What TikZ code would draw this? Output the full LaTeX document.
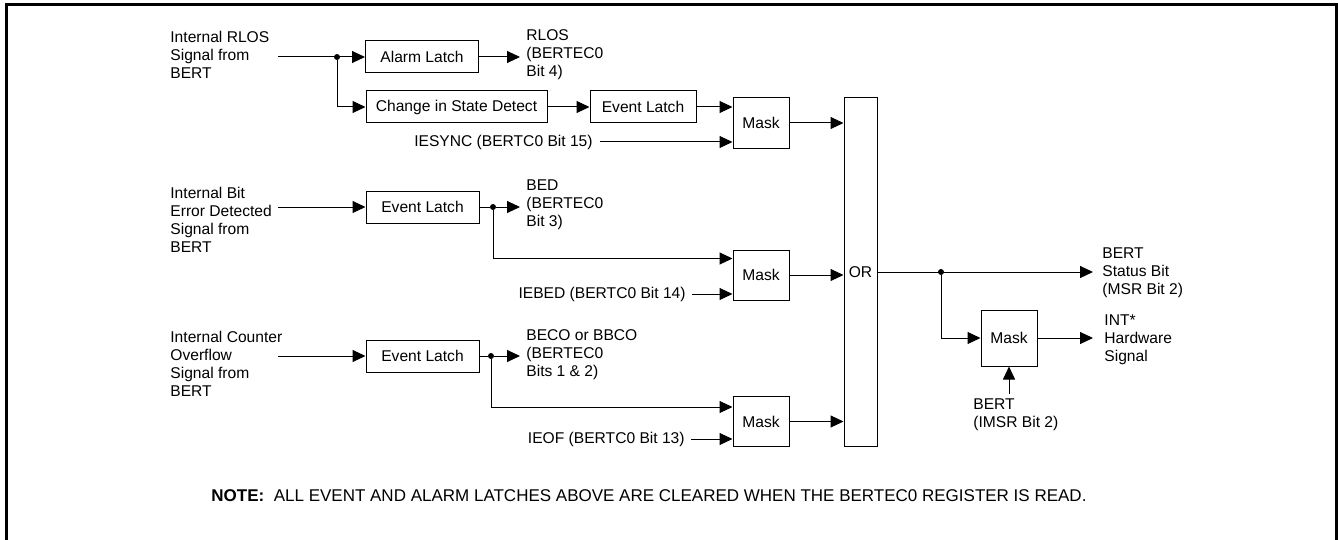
\documentclass[tikz,border=0pt]{standalone}
\usepackage{fontspec}
\setmainfont{Liberation Sans}
\usetikzlibrary{arrows.meta,positioning}
\tikzset{
  >={Triangle[length=6.5pt,width=6pt]},
  blk/.style={draw,line width=0.5pt,minimum height=16pt,minimum width=#1,inner sep=0pt,
    font=\fontsize{7.8}{9}\selectfont},
  blk/.default=56.5pt,
  mask/.style={blk=28pt,minimum height=25pt},
  sig/.style={->,line width=0.5pt},
  txt/.style={inner sep=0pt,align=left,font=\fontsize{7.8}{9}\selectfont},
  dot/.style={circle,fill,inner sep=0pt,minimum size=3pt},
}
\begin{document}
\begin{tikzpicture}[x=0.5pt,y=-0.5pt]
  \useasboundingbox (0,0) rectangle (1338,540);
  \draw[line width=1.5pt] (6,545) |- (1336,5) -- (1336,545);
  % blocks
  \node[blk] (alarm) at (422,57) {Alarm Latch};
  \node[blk=90.5pt] (chg) at (456.5,107) {Change in State Detect};
  \node[blk=53pt] (evA) at (643,107) {Event Latch};
  \node[mask] (mA) at (761,123) {Mask};
  \node[blk] (evB) at (422.5,207) {Event Latch};
  \node[mask] (mB) at (761,275) {Mask};
  \node[blk] (evC) at (422.5,356) {Event Latch};
  \node[mask] (mC) at (761,421.5) {Mask};
  \node[blk=16.5pt,minimum height=174pt] (orgate) at (860.5,272) {OR};
  \node[mask,minimum height=28pt] (mD) at (1009,338) {Mask};
  % labels
  \node[txt,anchor=west] (rlosin) at (170,55) {Internal RLOS\\Signal from\\BERT};
  \node[txt,anchor=west] (bitin) at (170,220) {Internal Bit\\Error Detected\\Signal from\\BERT};
  \node[txt,anchor=west] (cntin) at (170,363.5) {Internal Counter\\Overflow\\Signal from\\BERT};
  \node[txt,anchor=west] (rlos) at (526,55) {RLOS\\(BERTEC0\\Bit 4)};
  \node[txt,anchor=west] (bed) at (526,205) {BED\\(BERTEC0\\Bit 3)};
  \node[txt,anchor=west] (beco) at (526,355) {BECO or BBCO\\(BERTEC0\\Bits 1 \& 2)};
  \node[txt,anchor=east] (iesync) at (593,142) {IESYNC (BERTC0 Bit 15)};
  \node[txt,anchor=east] (iebed) at (686,294) {IEBED (BERTC0 Bit 14)};
  \node[txt,anchor=east] (ieof) at (685,439) {IEOF (BERTC0 Bit 13)};
  \node[txt,anchor=west] (status) at (1102,273) {BERT\\Status Bit\\(MSR Bit 2)};
  \node[txt,anchor=west] (intsig) at (1104,340) {INT*\\Hardware\\Signal};
  \node[txt,anchor=north west] (imsr) at (973,398) {BERT\\(IMSR Bit 2)};
  \node[inner sep=0pt,font=\fontsize{8.5}{10}\selectfont] (note) at (649,496)
    {\textbf{NOTE:}\ \ ALL EVENT AND ALARM LATCHES ABOVE ARE CLEARED WHEN THE BERTEC0 REGISTER IS READ.};
  % junctions
  \coordinate (inA) at (278,57);
  \coordinate (inB) at (278,207);
  \coordinate (inC) at (278,356);
  \node[dot] (dA) at (337,57) {};
  \node[dot] (dB) at (493,207) {};
  \node[dot] (dC) at (491,356) {};
  \node[dot] (dO) at (941,272) {};
  % RLOS path
  \draw[sig] (inA) -- (alarm);
  \draw[sig] (dA) |- (chg);
  \draw[sig,shorten >=3pt] (alarm) -- (rlos.west |- alarm);
  \draw[sig] (chg) -- (evA);
  \draw[sig] (evA) -- (evA -| mA.west);
  \draw[sig,shorten <=3.5pt] (iesync) -- (iesync -| mA.west);
  \draw[sig] (mA) -- (mA -| orgate.west);
  % bit error path
  \draw[sig] (inB) -- (evB);
  \draw[line width=0.5pt] (evB) -- (dB);
  \draw[sig,shorten >=3pt] (dB) -- (bed.west |- dB);
  \draw[sig] (dB) |- ([yshift=-4.5pt]mB.north west);
  \draw[sig,shorten <=3pt] (iebed) -- (iebed -| mB.west);
  \draw[sig] (mB) -- (mB -| orgate.west);
  % counter overflow path
  \draw[sig] (inC) -- (evC);
  \draw[line width=0.5pt] (evC) -- (dC);
  \draw[sig,shorten >=3pt] (dC) -- (beco.west |- dC);
  \draw[sig] (dC) |- ([yshift=-5.5pt]mC.north west);
  \draw[sig,shorten <=3pt] (ieof) -- (ieof -| mC.west);
  \draw[sig] (mC) -- (mC -| orgate.west);
  % outputs
  \draw[sig,shorten >=4.5pt] (orgate.east |- dO) -- (status.west |- dO);
  \draw[sig] (dO) |- (mD);
  \draw[sig,shorten >=5.5pt] (mD) -- (intsig.west |- mD);
  \draw[sig] ([yshift=2pt]imsr.north -| mD.south) -- (mD.south);
\end{tikzpicture}
\end{document}
